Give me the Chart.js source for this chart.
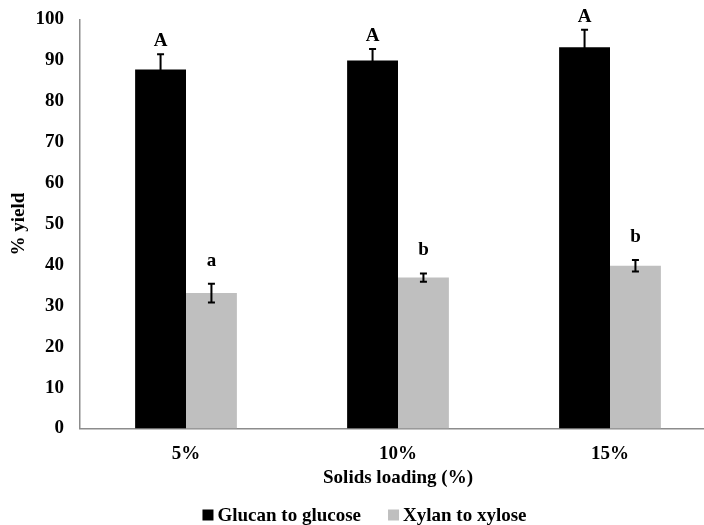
<!DOCTYPE html>
<html>
<head>
<meta charset="utf-8">
<script src="https://cdn.jsdelivr.net/npm/chart.js@4.4.0/dist/chart.umd.min.js"></script>
<style>
    html, body { margin: 0; padding: 0; background: #fff; overflow: hidden; }
    #wrap { width: 704px; height: 525px; overflow: hidden; }
</style>
</head>
<body>
<div id="wrap"><canvas id="yieldChart" width="716" height="525"></canvas></div>
<script>
// Data
const categories = ['5%', '10%', '15%'];
const glucanYield = [87.8, 90.0, 93.2];
const glucanErr = [3.7, 2.8, 4.3];
const xylanYield = [33.1, 36.9, 39.8];
const xylanErr = [2.3, 1.0, 1.4];
const glucanLetters = ['A', 'A', 'A'];
const xylanLetters = ['a', 'b', 'b'];
const yTicks = [0, 10, 20, 30, 40, 50, 60, 70, 80, 90, 100];

const serif = "'Liberation Serif', 'Times New Roman', serif";
const boldFont = 'bold 19px ' + serif;

// Error bars and significance letters
const errorBarPlugin = {
    id: 'errorBars',
    afterDatasetsDraw(chart) {
        const ctx = chart.ctx;
        const y = chart.scales.y;
        const errs = [glucanErr, xylanErr];
        const letters = [glucanLetters, xylanLetters];
        const letterGap = [13, 23];
        chart.data.datasets.forEach((ds, di) => {
            const meta = chart.getDatasetMeta(di);
            meta.data.forEach((bar, i) => {
                const v = ds.data[i];
                const top = y.getPixelForValue(v + errs[di][i]);
                const bot = y.getPixelForValue(v - errs[di][i]);
                ctx.save();
                ctx.strokeStyle = '#000';
                ctx.lineWidth = 2;
                ctx.beginPath();
                ctx.moveTo(bar.x, top);
                ctx.lineTo(bar.x, bot);
                ctx.moveTo(bar.x - 3.5, top);
                ctx.lineTo(bar.x + 3.5, top);
                ctx.moveTo(bar.x - 3.5, bot);
                ctx.lineTo(bar.x + 3.5, bot);
                ctx.stroke();

                ctx.fillStyle = '#000';
                ctx.font = boldFont;
                ctx.textAlign = 'center';
                ctx.textBaseline = 'middle';
                ctx.fillText(letters[di][i], bar.x, top - letterGap[di]);
                ctx.restore();
            });
        });
    }
};

// Legend drawn below the axis title, centred like the original
const legendPlugin = {
    id: 'bottomLegend',
    afterDraw(chart) {
        const ctx = chart.ctx;
        const box = 11, gapText = 4, gapItem = 27, cy = 515;
        ctx.save();
        ctx.font = boldFont;
        const items = chart.data.datasets.map(ds => ({
            text: ds.label,
            color: ds.backgroundColor,
            w: ctx.measureText(ds.label).width
        }));
        let total = 0;
        items.forEach((it, i) => {
            total += box + gapText + it.w + (i ? gapItem : 0);
        });
        let x = 364.5 - total / 2;
        items.forEach(it => {
            ctx.fillStyle = it.color;
            ctx.fillRect(x, cy - box / 2, box, box);
            x += box + gapText;
            ctx.fillStyle = '#000';
            ctx.textAlign = 'left';
            ctx.textBaseline = 'middle';
            ctx.fillText(it.text, x, cy + 1);
            x += it.w + gapItem;
        });
        ctx.restore();
    }
};

const ctx = document.getElementById('yieldChart');
new Chart(ctx, {
    type: 'bar',
    data: {
        labels: categories,
        datasets: [{
            label: 'Glucan to glucose',
            data: glucanYield,
            backgroundColor: '#000000',
            borderWidth: 0
        }, {
            label: 'Xylan to xylose',
            data: xylanYield,
            backgroundColor: '#bfbfbf',
            borderWidth: 0
        }]
    },
    options: {
        responsive: false,
        animation: false,
        layout: {
            padding: { top: 19.5, left: 0, right: 0, bottom: 36 }
        },
        datasets: {
            bar: {
                categoryPercentage: 0.48,
                barPercentage: 1.0
            }
        },
        plugins: {
            tooltip: { enabled: false },
            legend: { display: false }
        },
        scales: {
            x: {
                grid: { display: false, drawTicks: false },
                border: { color: '#8c8c8c', width: 1.5 },
                ticks: {
                    color: '#000',
                    padding: 14,
                    font: { family: serif, size: 19, weight: 'bold' }
                },
                title: {
                    display: true,
                    text: 'Solids loading (%)',
                    color: '#000',
                    padding: { top: 4, bottom: 0 },
                    font: { family: serif, size: 19, weight: 'bold' }
                },
                afterFit(scale) {
                    scale.height = 525 - 36 - 428.5;
                }
            },
            y: {
                min: 0,
                max: 100,
                afterBuildTicks(scale) {
                    scale.ticks = yTicks.map(v => ({ value: v }));
                },
                grid: { display: false, drawTicks: false },
                border: { color: '#8c8c8c', width: 1.5 },
                ticks: {
                    color: '#000',
                    padding: 16,
                    font: { family: serif, size: 19, weight: 'bold' }
                },
                title: {
                    display: true,
                    text: '% yield',
                    color: '#000',
                    padding: { top: 8, bottom: 0 },
                    font: { family: serif, size: 19, weight: 'bold' }
                },
                afterFit(scale) {
                    scale.width = 80;
                    scale.paddingTop = 0;
                    scale.paddingBottom = 0;
                }
            }
        }
    },
    plugins: [errorBarPlugin, legendPlugin]
});
</script>
</body>
</html>
